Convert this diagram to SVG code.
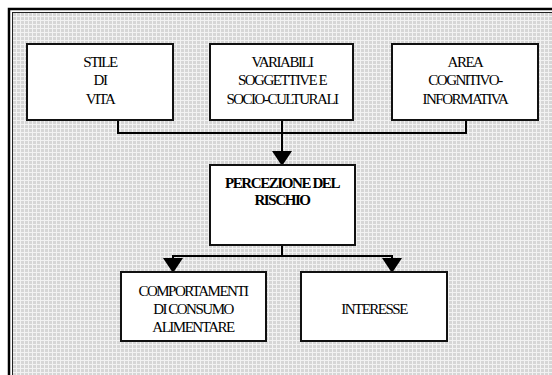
<svg xmlns="http://www.w3.org/2000/svg" width="552" height="375" viewBox="0 0 552 375">
<defs>
<pattern id="dots" width="4" height="4" patternUnits="userSpaceOnUse">
<rect width="4" height="4" fill="#d6d6d6"/>
<rect x="0" y="0" width="4" height="1" fill="#f2f2f2"/>
<rect x="0" y="0" width="1" height="4" fill="#f2f2f2"/>
</pattern>
<path id="ah" d="M-10,-15 L10,-15 L0,0 Z" fill="#000"/>
</defs>
<style>
.box{fill:#fff;stroke:#111;stroke-width:2}
text{font-family:'Liberation Serif','Times New Roman',Times,serif;font-size:15px;letter-spacing:-1.5px;text-anchor:middle;fill:#000}
.b{font-weight:bold;letter-spacing:-1.4px}
.c{fill:none;stroke:#000;stroke-width:2}
</style>
<rect width="552" height="375" fill="#fff"/>
<g id="frame">
<rect x="9" y="9" width="600" height="600" fill="none" stroke="#000" stroke-width="2.5"/>
<rect x="12.5" y="12.5" width="600" height="600" fill="url(#dots)" stroke="#222" stroke-width="1"/>
</g>
<g id="connectors">
<path class="c" d="M118,120 V133 H466 V120"/>
<path class="c" d="M282,120 V152"/>
<use href="#ah" x="282" y="166"/>
<path class="c" d="M282,245 V256 M173,259 V256 H392 V259"/>
<use href="#ah" x="173" y="273"/>
<use href="#ah" x="392" y="273"/>
</g>
<g id="stile">
<rect class="box" x="27" y="44" width="146" height="76"/>
<text x="100" y="67">STILE</text>
<text x="100" y="85">DI</text>
<text x="100" y="104">VITA</text>
</g>
<g id="variabili">
<rect class="box" x="210" y="44" width="143" height="76"/>
<text x="282" y="67">VARIABILI</text>
<text x="282" y="85">SOGGETTIVE E</text>
<text x="282" y="104">SOCIO-CULTURALI</text>
</g>
<g id="area">
<rect class="box" x="392" y="44" width="146" height="76"/>
<text x="465" y="67">AREA</text>
<text x="465" y="85">COGNITIVO-</text>
<text x="465" y="104">INFORMATIVA</text>
</g>
<g id="percezione">
<rect class="box" x="210" y="165" width="145" height="80"/>
<text class="b" x="282" y="188">PERCEZIONE DEL</text>
<text class="b" x="282" y="205">RISCHIO</text>
</g>
<g id="comportamenti">
<rect class="box" x="121" y="272" width="145" height="69"/>
<text x="193" y="296">COMPORTAMENTI</text>
<text x="193" y="314">DI CONSUMO</text>
<text x="193" y="332">ALIMENTARE</text>
</g>
<g id="interesse">
<rect class="box" x="301" y="272" width="146" height="69"/>
<text x="374" y="314">INTERESSE</text>
</g>
</svg>
